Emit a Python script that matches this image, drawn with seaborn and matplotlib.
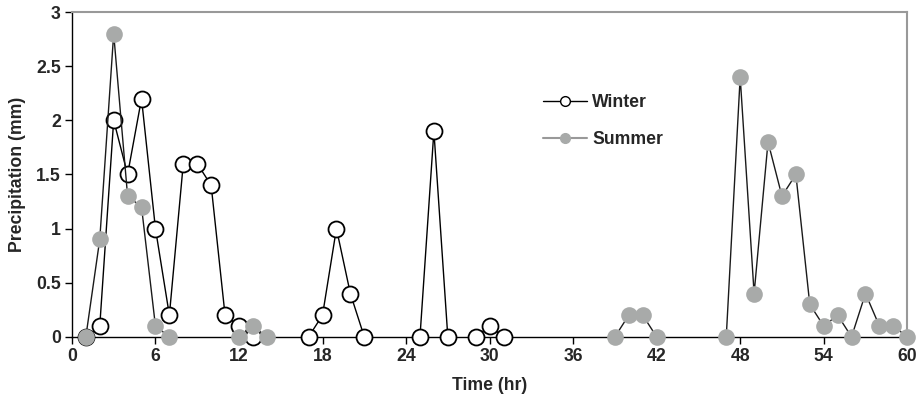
import numpy as np
import pandas as pd
import matplotlib
matplotlib.use("Agg")
import matplotlib.pyplot as plt
from matplotlib.lines import Line2D
import seaborn as sns

# ---- data ----
winter_hours = [1, 2, 3, 4, 5, 6, 7, 8, 9, 10, 11, 12, 13,
                17, 18, 19, 20, 21,
                25, 26, 27,
                29, 30, 31]
winter_vals = [0, 0.1, 2.0, 1.5, 2.2, 1.0, 0.2, 1.6, 1.6, 1.4, 0.2, 0.1, 0,
               0, 0.2, 1.0, 0.4, 0,
               0, 1.9, 0,
               0, 0.1, 0]
summer_hours = [1, 2, 3, 4, 5, 6, 7,
                12, 13, 14,
                39, 40, 41, 42,
                47, 48, 49, 50, 51, 52, 53, 54, 55, 56, 57, 58, 59, 60]
summer_vals = [0, 0.9, 2.8, 1.3, 1.2, 0.1, 0,
               0, 0.1, 0,
               0, 0.2, 0.2, 0,
               0, 2.4, 0.4, 1.8, 1.3, 1.5, 0.3, 0.1, 0.2, 0, 0.4, 0.1, 0.1, 0]
x_ticks = [0, 6, 12, 18, 24, 30, 36, 42, 48, 54, 60]
y_ticks = [0, 0.5, 1, 1.5, 2, 2.5, 3]
y_tick_labels = ["0", "0.5", "1", "1.5", "2", "2.5", "3"]


def segments(hours):
    seg, out = 0, []
    for i, h in enumerate(hours):
        if i > 0 and h - hours[i - 1] > 1:
            seg += 1
        out.append(seg)
    return out


winter = pd.DataFrame({"hour": winter_hours, "val": winter_vals,
                       "seg": segments(winter_hours)})
summer = pd.DataFrame({"hour": summer_hours, "val": summer_vals,
                       "seg": segments(summer_hours)})

sns.set_style("white")
plt.rcParams["font.family"] = ["Liberation Sans", "DejaVu Sans"]

FS = 12.7

fig = plt.figure(figsize=(9.22, 4.01), dpi=100)
ax = fig.add_axes([0.078, 0.160, 0.906, 0.810])

sns.lineplot(data=winter, x="hour", y="val", units="seg", estimator=None,
             ax=ax, color="black", lw=1.0, marker="o", markersize=11.5,
             markerfacecolor="white", markeredgecolor="black",
             markeredgewidth=1.3, legend=False, zorder=3, clip_on=False)
sns.lineplot(data=summer, x="hour", y="val", units="seg", estimator=None,
             ax=ax, color="#1a1a1a", lw=1.0, marker="o", markersize=12,
             markerfacecolor="#a8aaa9", markeredgecolor="#a8aaa9",
             markeredgewidth=0, legend=False, zorder=4, clip_on=False)

ax.set_xlim(0, 60)
ax.set_ylim(0, 3)
ax.set_xticks(x_ticks)
ax.set_xticklabels([str(t) for t in x_ticks], fontweight="bold", fontsize=FS)
ax.set_yticks(y_ticks)
ax.set_yticklabels(y_tick_labels, fontweight="bold", fontsize=FS)
ax.set_xlabel("Time (hr)", fontweight="bold", fontsize=FS, labelpad=9)
ax.set_ylabel("Precipitation (mm)", fontweight="bold", fontsize=FS, labelpad=7)

for side in ["left", "bottom"]:
    ax.spines[side].set_color("black")
    ax.spines[side].set_linewidth(1.0)
for side in ["top", "right"]:
    ax.spines[side].set_color("#999999")
    ax.spines[side].set_linewidth(1.5)
ax.tick_params(axis="both", direction="out", length=5, width=1,
               color="black", bottom=True, left=True, pad=3)
for sp in ax.spines.values():
    sp.set_zorder(1)

handles = [
    Line2D([], [], color="black", lw=1.0, marker="o", markersize=7,
           markerfacecolor="white", markeredgecolor="black", markeredgewidth=1.0),
    Line2D([], [], color="#999999", lw=1.5, marker="o", markersize=7,
           markerfacecolor="#a8aaa9", markeredgecolor="#a8aaa9"),
]
leg = ax.legend(handles, ["Winter", "Summer"], loc="upper left",
                bbox_to_anchor=(0.545, 0.795), frameon=False,
                prop={"weight": "bold", "size": FS}, handlelength=2.5,
                labelspacing=1.1, handletextpad=0.3)

fig.savefig("out.png", dpi=100)
